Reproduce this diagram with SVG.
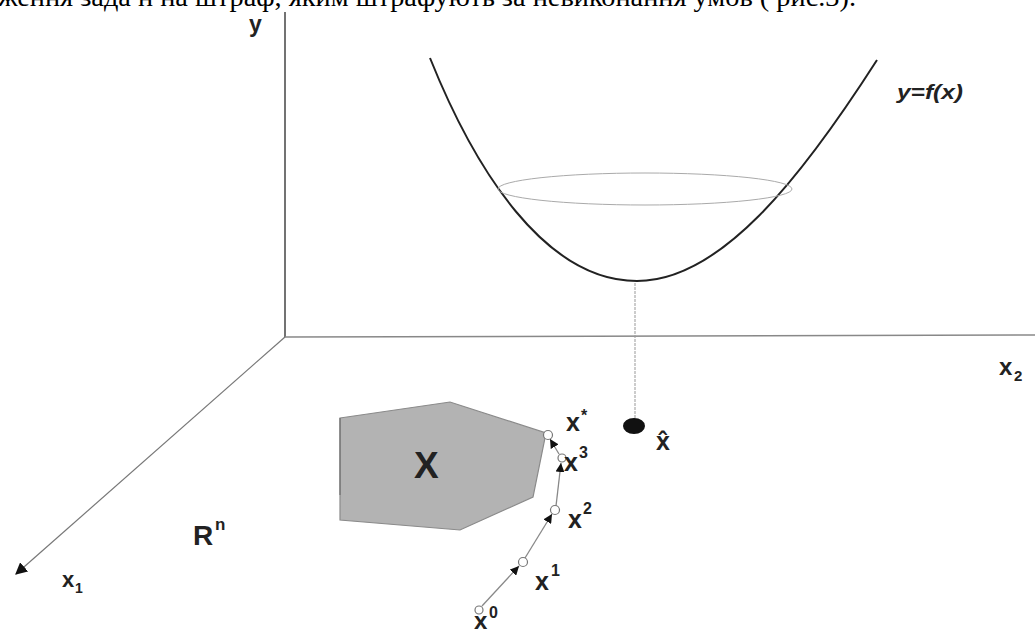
<svg xmlns="http://www.w3.org/2000/svg" width="1035" height="632" viewBox="0 0 1035 632">
<style>
.lbl{font-family:"Liberation Sans",Arial,sans-serif;font-weight:bold;fill:#222}
.sup{font-family:"Liberation Sans",Arial,sans-serif;font-weight:bold;fill:#222;font-size:16px}
.pt{fill:#fff;stroke:#777;stroke-width:1.2}
.step{stroke:#888;stroke-width:1.3;fill:none;marker-end:url(#ah)}
</style>
<defs>
<marker id="ah" viewBox="0 0 10 10" refX="10" refY="5" markerWidth="9" markerHeight="9" markerUnits="userSpaceOnUse" orient="auto">
<path d="M0,0 L10,5 L0,10 z" fill="#111"/>
</marker>
<marker id="axh" viewBox="0 0 10 10" refX="9" refY="5" markerWidth="12" markerHeight="12" markerUnits="userSpaceOnUse" orient="auto">
<path d="M0,0 L10,5 L0,10 z" fill="#111"/>
</marker>
</defs>
<rect width="1035" height="632" fill="#fff"/>
<text x="-2" y="6" font-family="Liberation Serif,'Times New Roman',serif" font-size="27" fill="#000" textLength="858" lengthAdjust="spacingAndGlyphs">ження зада н на штраф, яким штрафують за невиконання умов ( рис.3).</text>

<g id="axes">
<line x1="285" y1="12" x2="285" y2="337" stroke="#444" stroke-width="1.5"/>
<line x1="285" y1="337" x2="1035" y2="335" stroke="#888" stroke-width="1.5"/>
<line x1="285" y1="337" x2="16" y2="574" stroke="#777" stroke-width="1.2" marker-end="url(#axh)"/>
<text class="lbl" x="249" y="32" font-size="23">y</text>
<text class="lbl" x="999" y="375" font-size="24">x</text>
<text class="lbl" x="1014" y="381" font-size="15">2</text>
<text class="lbl" x="62" y="587" font-size="22">x</text>
<text class="lbl" x="75" y="593" font-size="14">1</text>
<text class="lbl" x="193" y="545" font-size="28">R</text>
<text class="lbl" x="215" y="530" font-size="17">n</text>
</g>

<g id="function">
<path d="M430,58 C475,170 545,281 637,281 C720,281 800,180 877,60" fill="none" stroke="#222" stroke-width="2"/>
<ellipse cx="645" cy="189" rx="147" ry="16" fill="none" stroke="#aaa" stroke-width="1"/>
<text class="lbl" x="897" y="99" font-size="20" font-style="italic" textLength="66" lengthAdjust="spacingAndGlyphs">y=f(x)</text>
<line x1="635" y1="283" x2="635" y2="420" stroke="#999" stroke-width="1" stroke-dasharray="3,1"/>
</g>

<g id="minimum">
<ellipse cx="634" cy="426" rx="11" ry="8" fill="#111"/>
<text class="lbl" x="656" y="450" font-size="25">x̂</text>
</g>

<g id="setX">
<polygon points="340,418 450,402 546,433 533,497 460,530 340,520" fill="#b3b3b3" stroke="#8a8a8a" stroke-width="1.2"/>
<line x1="340" y1="418" x2="340" y2="495" stroke="#666" stroke-width="1"/>
<text class="lbl" x="414" y="478" font-size="37">X</text>
</g>

<g id="connectors">
<line class="step" x1="482" y1="606" x2="519" y2="566"/>
<line class="step" x1="525" y1="558" x2="552" y2="514"/>
<line class="step" x1="556" y1="506" x2="561" y2="463"/>
<line class="step" x1="559" y1="454" x2="550" y2="439"/>
</g>

<g id="iterates">
<circle class="pt" cx="479" cy="610" r="4"/>
<circle class="pt" cx="523" cy="562" r="4.5"/>
<circle class="pt" cx="555" cy="510" r="4.5"/>
<circle class="pt" cx="562" cy="458" r="4"/>
<circle class="pt" cx="548" cy="435" r="4.5"/>
<text class="lbl" x="566" y="431" font-size="25">x</text>
<text class="sup" x="581" y="421">*</text>
<text class="lbl" x="564" y="471" font-size="25">x</text>
<text class="sup" x="579" y="458">3</text>
<text class="lbl" x="568" y="528" font-size="25">x</text>
<text class="sup" x="583" y="514">2</text>
<text class="lbl" x="535" y="590" font-size="25">x</text>
<text class="sup" x="551" y="576">1</text>
<text class="lbl" x="474" y="629" font-size="24">x</text>
<text class="sup" x="489" y="618">0</text>
</g>
</svg>
